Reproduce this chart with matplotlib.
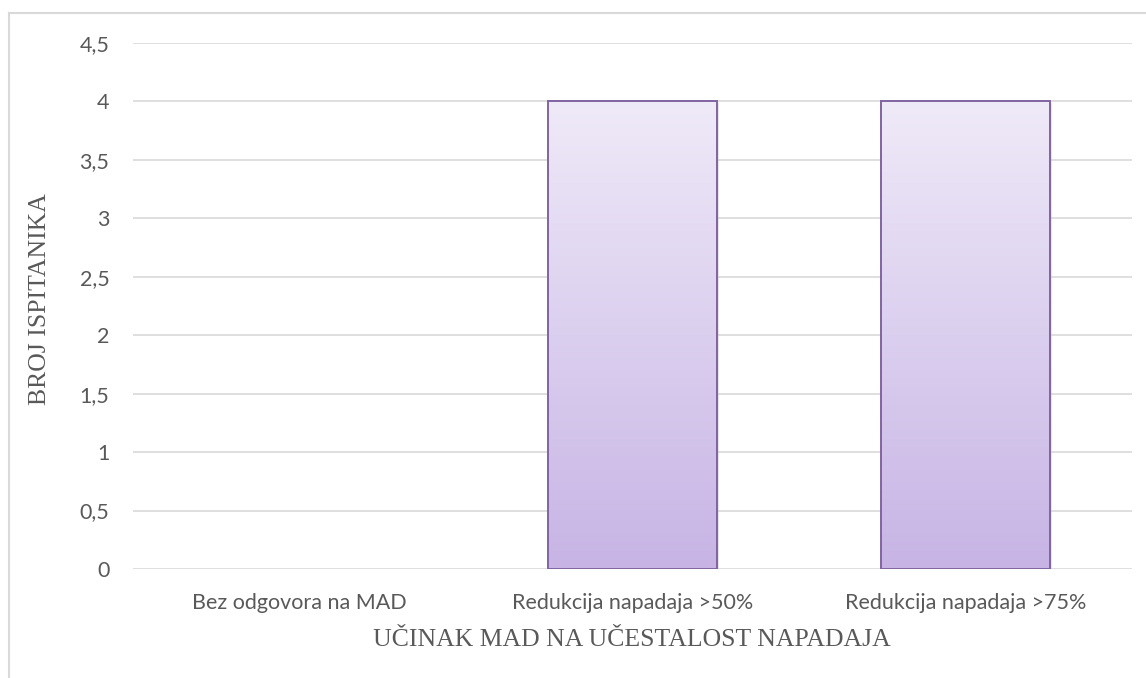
import numpy as np
import matplotlib.pyplot as plt
from matplotlib.lines import Line2D
from matplotlib.colors import LinearSegmentedColormap

# podaci
kategorije = ['Bez odgovora na MAD', 'Redukcija napadaja >50%', 'Redukcija napadaja >75%']
vrijednosti = [0, 4, 4]
y_ticks = [0, 0.5, 1, 1.5, 2, 2.5, 3, 3.5, 4, 4.5]
y_labels = ['0', '0,5', '1', '1,5', '2', '2,5', '3', '3,5', '4', '4,5']

fig = plt.figure(figsize=(11.46, 6.78), dpi=100)
ax = fig.add_axes([133 / 1146, 1 - 569 / 678, 999 / 1146, 526 / 678])

x = np.arange(len(kategorije))

# grid
for t in y_ticks:
    ax.axhline(t, color='#D9D9D9', lw=1.2, zorder=0)

# gradijent za stupce
cmap = LinearSegmentedColormap.from_list('ljub', ['#C7B4E5', '#EFEAF8'])
grad = np.linspace(0, 1, 256).reshape(-1, 1)

sirina = 0.505
for xi, v in zip(x, vrijednosti):
    if v <= 0:
        continue
    # sjena
    ax.bar(xi + 0.008, v, width=sirina, bottom=-0.015, color='#BFBFBF', alpha=0.35, lw=0, zorder=1)
    b = ax.bar(xi, v, width=sirina, facecolor='none', edgecolor='#8064A2', lw=1.4, zorder=3)[0]
    x0 = b.get_x()
    im = ax.imshow(grad, cmap=cmap, extent=[x0, x0 + sirina, 0, v], origin='lower',
                   aspect='auto', zorder=2)
    im.set_clip_path(b)

ax.set_xlim(-0.5, len(kategorije) - 0.5)
ax.set_ylim(0, 4.5)

for s in ax.spines.values():
    s.set_visible(False)
ax.tick_params(length=0, colors='#595959')
ax.set_xticks(x)
ax.set_xticklabels(kategorije, fontfamily='Lato', fontsize=15.5)
ax.set_yticks(y_ticks)
ax.set_yticklabels(y_labels, fontfamily='Lato', fontsize=15.5)
ax.tick_params(axis='x', pad=17)
ax.tick_params(axis='y', pad=17)

fig.text(632 / 1146, 1 - 640 / 678, 'UČINAK MAD NA UČESTALOST NAPADAJA', ha='center', va='center',
         fontfamily='Liberation Serif', fontsize=18.5, color='#595959')
fig.text(40 / 1146, 1 - 299 / 678, 'BROJ ISPITANIKA', ha='center', va='center', rotation=90,
         fontfamily='Liberation Serif', fontsize=18.5, color='#595959')

# okvir grafikona
fig.add_artist(Line2D([8.5 / 1146, 8.5 / 1146], [0, 1 - 12.5 / 678], transform=fig.transFigure,
                      color='#D9D9D9', lw=1.5))
fig.add_artist(Line2D([8.5 / 1146, 1], [1 - 12.5 / 678, 1 - 12.5 / 678], transform=fig.transFigure,
                      color='#D9D9D9', lw=1.5))

fig.savefig('out.png', dpi=100)
